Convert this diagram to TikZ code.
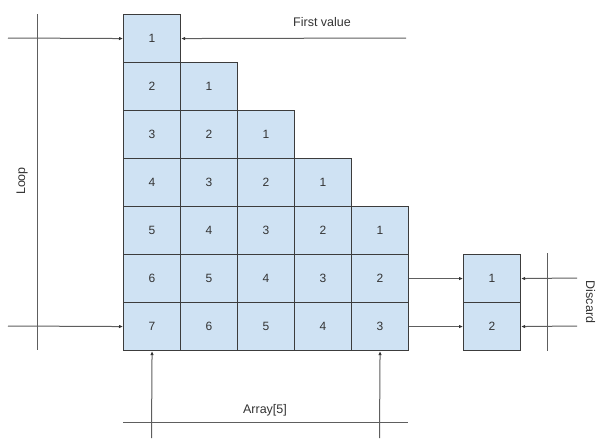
\documentclass[tikz,border=0pt]{standalone}
\usepackage{fontspec}
\setmainfont{Liberation Sans}
\usetikzlibrary{arrows.meta}
\definecolor{cellfill}{HTML}{CFE2F3}
\definecolor{cellline}{HTML}{3C3C3C}
\definecolor{conline}{HTML}{5E5E5E}
\definecolor{txt}{HTML}{333333}
\begin{document}
\begin{tikzpicture}[x=1pt,y=-1pt,
  cell/.style={draw=cellline,line width=1.1pt,fill=cellfill,minimum width=57pt,minimum height=48pt,inner sep=0pt,anchor=north west,font=\fontsize{12}{12}\selectfont,text=txt},
  conn/.style={draw=conline,line width=1pt},
  arr/.style={conn,-{Latex[length=4pt,width=3.5pt,color=black!80]}},
  lbl/.style={font=\fontsize{12.5}{13}\selectfont,text=txt,inner sep=0pt}]
\useasboundingbox (0,0) rectangle (597,439);
% staircase of cells
\foreach \r in {1,...,7}{
  \pgfmathtruncatemacro{\cmax}{min(\r,5)}
  \foreach \c in {1,...,\cmax}{
    \pgfmathtruncatemacro{\v}{\r-\c+1}
    \node[cell] (c\r\c) at ({123+57*(\c-1)},{14+48*(\r-1)}) {\v};
  }
}
% discard boxes
\node[cell] (d1) at (463,254) {1};
\node[cell] (d2) at (463,302) {2};
% Loop
\coordinate (lt) at (37,14);
\coordinate (lb) at (37,350);
\draw[conn] (lt) -- (lb);
\coordinate (la) at (8,38);
\coordinate (lc) at (8,326);
\draw[arr] (la) -- (c11.west);
\draw[arr] (lc) -- (c71.west);
\node[lbl,rotate=90] (loop) at (22,181) {Loop};
% First value
\coordinate (fv) at (406,38);
\draw[arr] (fv) -- (c11.east);
\node[lbl] (fvt) at (322,22) {First value};
% to discard
\draw[arr] (c65.east) -- (d1.west);
\draw[arr] (c75.east) -- (d2.west);
% Discard
\coordinate (dt) at (547,253);
\coordinate (db) at (547,351);
\draw[conn] (dt) -- (db);
\coordinate (da) at (577,278);
\coordinate (dc) at (577,326);
\draw[arr] (da) -- (d1.east);
\draw[arr] (dc) -- (d2.east);
\node[lbl,rotate=-90] (disc) at (590.5,302) {Discard};
% Array[5]
\coordinate (al) at (123,422);
\coordinate (ar) at (408,422);
\draw[conn] (al) -- (ar);
\coordinate (b1) at (151.5,438);
\coordinate (b2) at (379.5,438);
\draw[arr] (b1) -- (c71.south);
\draw[arr] (b2) -- (c75.south);
\node[lbl] (arrt) at (265,410) {Array[5]};
\end{tikzpicture}
\end{document}
